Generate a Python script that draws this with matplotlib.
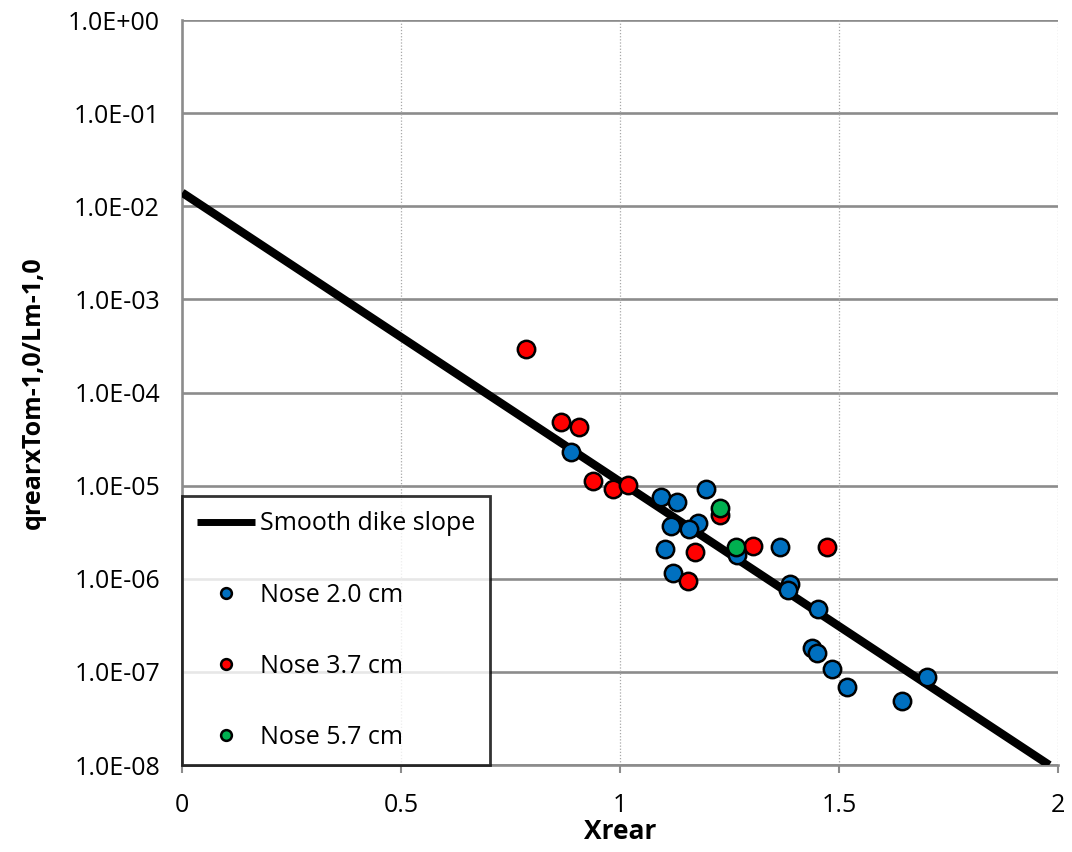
import matplotlib
matplotlib.use("Agg")
import matplotlib.pyplot as plt
from matplotlib.ticker import FixedLocator, FuncFormatter

plt.rcParams['font.family'] = ['Open Sans', 'DejaVu Sans']

# fitted line (smooth dike slope)
line_x = [0.0, 1.98]
line_y = [1.4e-2, 1.0e-8]

# Nose 2.0 cm
blue_x = [0.888, 1.094, 1.130, 1.196, 1.116, 1.178, 1.158, 1.103, 1.121, 1.267,
          1.365, 1.388, 1.384, 1.452, 1.438, 1.450, 1.484, 1.518, 1.644, 1.701]
blue_y = [2.3e-5, 7.5e-6, 6.6e-6, 9.2e-6, 3.7e-6, 4.0e-6, 3.4e-6, 2.1e-6, 1.15e-6, 1.8e-6,
          2.2e-6, 8.7e-7, 7.6e-7, 4.8e-7, 1.8e-7, 1.6e-7, 1.07e-7, 6.9e-8, 4.9e-8, 8.9e-8]

# Nose 3.7 cm
red_x = [0.785, 0.865, 0.906, 0.938, 0.984, 1.018, 1.228, 1.171, 1.304, 1.155, 1.473]
red_y = [2.9e-4, 4.8e-5, 4.3e-5, 1.12e-5, 9.2e-6, 1.01e-5, 4.8e-6, 1.94e-6, 2.24e-6, 9.4e-7, 2.2e-6]

# Nose 5.7 cm
green_x = [1.228, 1.265]
green_y = [5.7e-6, 2.2e-6]

x_ticks = [0, 0.5, 1, 1.5, 2]
x_tick_labels = ['0', '0.5', '1', '1.5', '2']
y_ticks = [1e0, 1e-1, 1e-2, 1e-3, 1e-4, 1e-5, 1e-6, 1e-7, 1e-8]

fig = plt.figure(figsize=(10.72, 8.52), dpi=100)
ax = fig.add_axes([0.170, 0.102, 0.817, 0.8745])

ax.set_yscale('log')
ax.set_xlim(0, 2)
ax.set_ylim(1e-8, 1e0)

# grid
for yv in y_ticks:
    ax.axhline(yv, color='#8c8c8c', lw=1.9, zorder=1)
for xv in x_ticks[1:]:
    ax.axvline(xv, color='#a8a8a8', lw=0.9, ls=(0, (1, 1.5)), zorder=1)

ax.plot(line_x, line_y, color='black', lw=6, solid_capstyle='butt', zorder=3,
        label='Smooth dike slope')

mk = dict(marker='o', ls='none', ms=12.5, mec='black', mew=1.8, zorder=4)
ax.plot(blue_x, blue_y, mfc='#0070C0', label='Nose 2.0 cm', **mk)
ax.plot(red_x, red_y, mfc='#FF0000', label='Nose 3.7 cm', **mk)
ax.plot(green_x, green_y, mfc='#00B050', label='Nose 5.7 cm', **mk)

ax.xaxis.set_major_locator(FixedLocator(x_ticks))
ax.set_xticklabels(x_tick_labels)
ax.yaxis.set_major_locator(FixedLocator(y_ticks))
ax.yaxis.set_minor_locator(FixedLocator([]))
ax.yaxis.set_major_formatter(FuncFormatter(lambda v, p: f"{v:.1E}"))
ax.tick_params(axis='x', length=6, width=1.5, color='#8c8c8c', labelsize=18, pad=14)
ax.tick_params(axis='y', length=0, labelsize=18, pad=16)

for s in ['top', 'right']:
    ax.spines[s].set_visible(False)
for s in ['left', 'bottom']:
    ax.spines[s].set_color('#8c8c8c')
    ax.spines[s].set_linewidth(1.9)

ax.set_xlabel('Xrear', fontsize=19, fontweight='bold', labelpad=0)
ax.set_ylabel('qrearxTom-1,0/Lm-1,0', fontsize=18, fontweight='bold', labelpad=16)

leg = ax.legend(loc='lower left', bbox_to_anchor=(0.0, 0.0), fontsize=18,
                frameon=True, fancybox=False, markerscale=0.62, handlelength=2.3,
                handletextpad=0.2, labelspacing=1.85, borderpad=0.6,
                borderaxespad=0.0)
leg.get_frame().set_edgecolor('black')
leg.get_frame().set_linewidth(2)
leg.set_zorder(5)
leg.get_lines()[0].set_linewidth(5)

fig.savefig('out.png', dpi=100)
